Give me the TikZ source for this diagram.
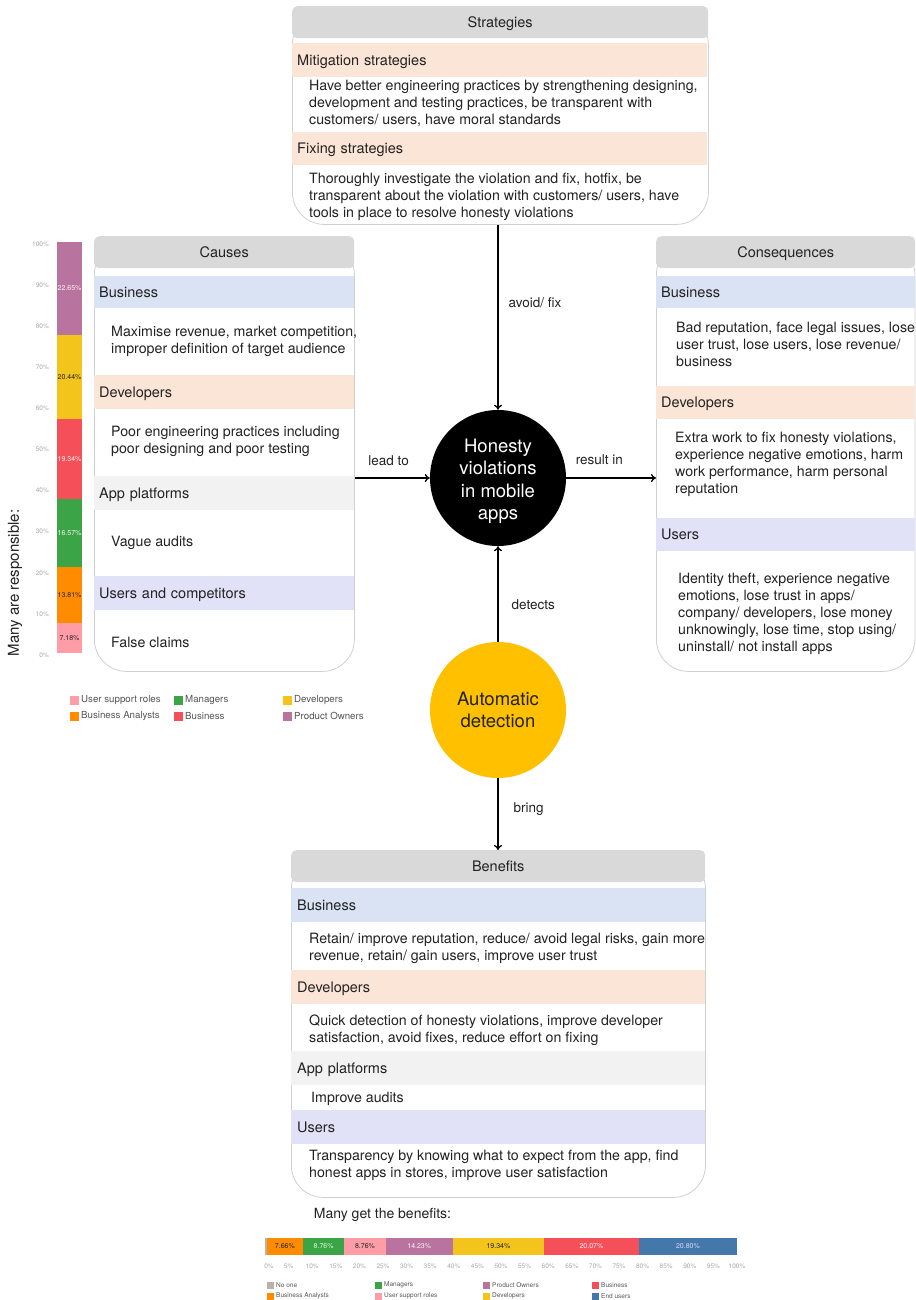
\documentclass[tikz,border=0pt]{standalone}
\usepackage{fontspec}
\setmainfont{TeX Gyre Heros}
\usetikzlibrary{arrows.meta, positioning, shapes.geometric}

\definecolor{headgray}{HTML}{D9D9D9}
\definecolor{linegray}{HTML}{D0D0D0}
\definecolor{bizblue}{HTML}{DAE3F3}
\definecolor{devpeach}{HTML}{FBE5D6}
\definecolor{platgray}{HTML}{F2F2F2}
\definecolor{userlav}{HTML}{E1E1F7}
\definecolor{autoyellow}{HTML}{FFC000}
\definecolor{txt}{HTML}{222222}
\definecolor{axgray}{HTML}{A8A8A8}
\definecolor{leggray}{HTML}{555555}
\definecolor{cpink}{HTML}{FF9DA7}
\definecolor{corange}{HTML}{FF8C00}
\definecolor{cgreen}{HTML}{3BA446}
\definecolor{cred}{HTML}{F5505A}
\definecolor{cyellow}{HTML}{F3C41C}
\definecolor{cpurple}{HTML}{B8739F}
\definecolor{cblue}{HTML}{4478AA}
\definecolor{cgray}{HTML}{BAB0AC}

\newcommand{\bodyfont}{\fontsize{14.2}{17}\selectfont}
\newcommand{\bandfont}{\fontsize{14.5}{17}\selectfont}

\tikzstyle{panel} = [rectangle, rounded corners=32pt, draw=linegray, line width=0.8pt, fill=white, anchor=north west, inner sep=0pt]
\tikzstyle{header} = [rectangle, rounded corners=5pt, fill=headgray, anchor=north west, minimum height=32pt, inner sep=0pt, text depth=0pt, text=txt, font=\bandfont]
\tikzstyle{band} = [rectangle, anchor=north west, minimum height=33pt, inner xsep=5pt, inner ysep=0pt, text depth=0pt, align=left, text=txt, font=\bandfont]
\tikzstyle{body} = [anchor=west, align=left, inner sep=0pt, yshift=-1.5pt, text=txt, font=\bodyfont]
\tikzstyle{circ} = [circle, minimum size=136pt, inner sep=0pt, align=center, font=\fontsize{18.5}{22.5}\selectfont]
\tikzstyle{circtext} = [align=center, inner sep=0pt, font=\fontsize{18.5}{22.5}\selectfont]
\tikzstyle{arrow} = [line width=1.3pt, -{To[length=5pt, width=8pt]}]
\tikzstyle{lbl} = [inner sep=0pt, text=txt, font=\fontsize{13.5}{16}\selectfont]
\tikzstyle{pct} = [inner sep=0pt, font=\fontsize{7}{8}\selectfont]
\tikzstyle{axlbl} = [inner sep=0pt, text=axgray, font=\fontsize{6.5}{8}\selectfont]
\tikzstyle{leg} = [anchor=west, inner sep=0pt, text=leggray]

\begin{document}
\begin{tikzpicture}[x=1pt, y=-1pt]
%background
\useasboundingbox[fill=white] (0,0) rectangle (915,1300);

%Strategies
\node (str) [panel, minimum width=416pt, minimum height=212pt] at (292,12) {};
\node (strh) [header, minimum width=416pt] at (292,6) {Strategies};
\node (strb1) [band, fill=devpeach, text width=405pt, minimum height=34pt] at (292,43) {Mitigation strategies};
\node (strt1) [body] at (309,102) {Have better engineering practices by strengthening designing,\\development and testing practices, be transparent with\\customers/ users, have moral standards};
\node (strb2) [band, fill=devpeach, text width=405pt] at (292,132) {Fixing strategies};
\node (strt2) [body] at (309,195) {Thoroughly investigate the violation and fix, hotfix, be\\transparent about the violation with customers/ users, have\\tools in place to resolve honesty violations};

%Causes
\node (cau) [panel, minimum width=260pt, minimum height=429pt] at (94,242) {};
\node (cauh) [header, minimum width=260pt] at (94,236) {Causes};
\node (caub1) [band, fill=bizblue, text width=250pt, minimum height=32pt] at (94,276) {Business};
\node (caut1) [body] at (111,340) {Maximise revenue, market competition,\\improper definition of target audience};
\node (caub2) [band, fill=devpeach, text width=250pt, minimum height=34pt] at (94,375) {Developers};
\node (caut2) [body] at (111,440) {Poor engineering practices including\\poor designing and poor testing};
\node (caub3) [band, fill=platgray, text width=250pt, minimum height=34pt] at (94,476) {App platforms};
\node (caut3) [body] at (111,541) {Vague audits};
\node (caub4) [band, fill=userlav, text width=250pt, minimum height=34pt] at (94,576) {Users and competitors};
\node (caut4) [body] at (111,641) {False claims};

%Consequences
\node (con) [panel, minimum width=258.5pt, minimum height=429pt] at (656,242) {};
\node (conh) [header, minimum width=259pt] at (656,236) {Consequences};
\node (conb1) [band, fill=bizblue, text width=249pt, minimum height=32pt] at (656,276) {Business};
\node (cont1) [body] at (676,343) {Bad reputation, face legal issues, lose\\user trust, lose users, lose revenue/\\business};
\node (conb2) [band, fill=devpeach, text width=249pt] at (656,386) {Developers};
\node (cont2) [body] at (675,463) {Extra work to fix honesty violations,\\experience negative emotions, harm\\work performance, harm personal\\reputation};
\node (conb3) [band, fill=userlav, text width=249pt] at (656,518) {Users};
\node (cont3) [body] at (678,612) {Identity theft, experience negative\\emotions, lose trust in apps/\\company/ developers, lose money\\unknowingly, lose time, stop using/\\uninstall/ not install apps};

%Benefits
\node (ben) [panel, minimum width=414pt, minimum height=341pt] at (291,856) {};
\node (benh) [header, minimum width=414pt] at (291,850) {Benefits};
\node (benb1) [band, fill=bizblue, text width=402pt, inner xsep=6pt, minimum height=34pt] at (291,888) {Business};
\node (bent1) [body] at (309,947) {Retain/ improve reputation, reduce/ avoid legal risks, gain more\\revenue, retain/ gain users, improve user trust};
\node (benb2) [band, fill=devpeach, text width=402pt, inner xsep=6pt, minimum height=34pt] at (291,970) {Developers};
\node (bent2) [body] at (309,1029) {Quick detection of honesty violations, improve developer\\satisfaction, avoid fixes, reduce effort on fixing};
\node (benb3) [band, fill=platgray, text width=402pt, inner xsep=6pt, minimum height=34pt] at (291,1051) {App platforms};
\node (bent3) [body] at (311,1097) {Improve audits};
\node (benb4) [band, fill=userlav, text width=402pt, inner xsep=6pt, minimum height=34pt] at (291,1110) {Users};
\node (bent4) [body] at (309,1164) {Transparency by knowing what to expect from the app, find\\honest apps in stores, improve user satisfaction};

%circles
\node (hon) [circ, fill=black, label={[circtext, text=white, yshift=-3.5pt]center:{Honesty\\violations\\in mobile\\apps}}] at (498,478) {};
\node (auto) [circ, fill=autoyellow, text=txt] at (498,710) {Automatic\\detection};

%arrows
\draw [arrow] (hon |- str.south) -- node[lbl, anchor=west, xshift=10pt, pos=0.42] {avoid/ fix} (hon.north);
\draw [arrow] (cau.east |- hon.west) -- node[lbl, anchor=south, yshift=12pt, pos=0.45] {lead to} (hon.west);
\draw [arrow] (hon.east) -- node[lbl, anchor=south, yshift=13pt, pos=0.37] {result in} (con.west |- hon.east);
\draw [arrow] (auto.north) -- node[lbl, anchor=west, xshift=13pt, pos=0.39] {detects} (hon.south);
\draw [arrow] (auto.south) -- node[lbl, anchor=west, xshift=15pt, pos=0.43] {bring} (auto |- benh.north);

%chart: responsible
\node (resp) [lbl, rotate=90, font=\fontsize{15}{17}\selectfont] at (15,583) {Many are responsible:};
\foreach \p in {0,10,...,100}
  \node (ra\p) [axlbl, anchor=east] at (49,{655-4.11*\p}) {\p\%};
\foreach \a/\b/\c/\t/\tc [count=\i] in {0/7.18/cpink/7.18/txt, 7.18/20.99/corange/13.81/txt, 20.99/37.56/cgreen/16.57/white!85!pink, 37.56/56.90/cred/19.34/white!85!pink, 56.90/77.34/cyellow/20.44/txt, 77.34/100/cpurple/22.65/white!85!pink}
{
  \fill[\c] (57,{653-4.11*\a}) rectangle (82,{653-4.11*\b});
  \node (rp\i) [pct, text=\tc] at (69.5,{653-4.11*(\a+\b)/2}) {\t\%};
}
\foreach \x/\y/\c/\t [count=\i] in {70/700/cpink/User support roles, 70/716/corange/Business Analysts, 174/700/cgreen/Managers, 174/716/cred/Business, 283/700/cyellow/Developers, 283/716/cpurple/Product Owners}
{
  \fill[\c] (\x,\y-4.5) rectangle ++(9,9);
  \node (rl\i) [leg, font=\fontsize{9.7}{11}\selectfont] at (\x+11,\y) {\t};
}

%chart: benefits
\node (get) [lbl, font=\fontsize{14}{16}\selectfont] at (382.5,1215) {Many get the benefits:};
\fill[cgray] (265,1238) rectangle ({265+4.72*0.38},1255);
\foreach \a/\b/\c/\t/\tc [count=\i] in {0.38/8.04/corange/7.66/txt, 8.04/16.80/cgreen/8.76/white!85!green, 16.80/25.56/cpink/8.76/txt, 25.56/39.79/cpurple/14.23/white!85!pink, 39.79/59.13/cyellow/19.34/txt, 59.13/79.20/cred/20.07/white!85!pink, 79.20/100/cblue/20.80/white!85!blue}
{
  \fill[\c] ({265+4.72*\a},1238) rectangle ({265+4.72*\b},1255);
  \node (bp\i) [pct, text=\tc] at ({265+4.72*(\a+\b)/2},1246.5) {\t\%};
}
\foreach \p in {0,5,...,100}
  \node (ba\p) [axlbl] at ({265+4.72*\p+(\p==0)*4},1266) {\p\%};
\foreach \x/\y/\c/\t [count=\i] in {267/1285/cgray/No one, 267/1296/corange/Business Analysts, 375/1285/cgreen/Managers, 375/1296/cpink/User support roles, 483/1285/cpurple/Product Owners, 483/1296/cyellow/Developers, 592/1285/cred/Business, 592/1296/cblue/End users}
{
  \fill[\c] (\x,\y-3.5) rectangle ++(7,7);
  \node (bl\i) [leg, font=\fontsize{6.5}{8}\selectfont] at (\x+9,\y) {\t};
}
\end{tikzpicture}
\end{document}
